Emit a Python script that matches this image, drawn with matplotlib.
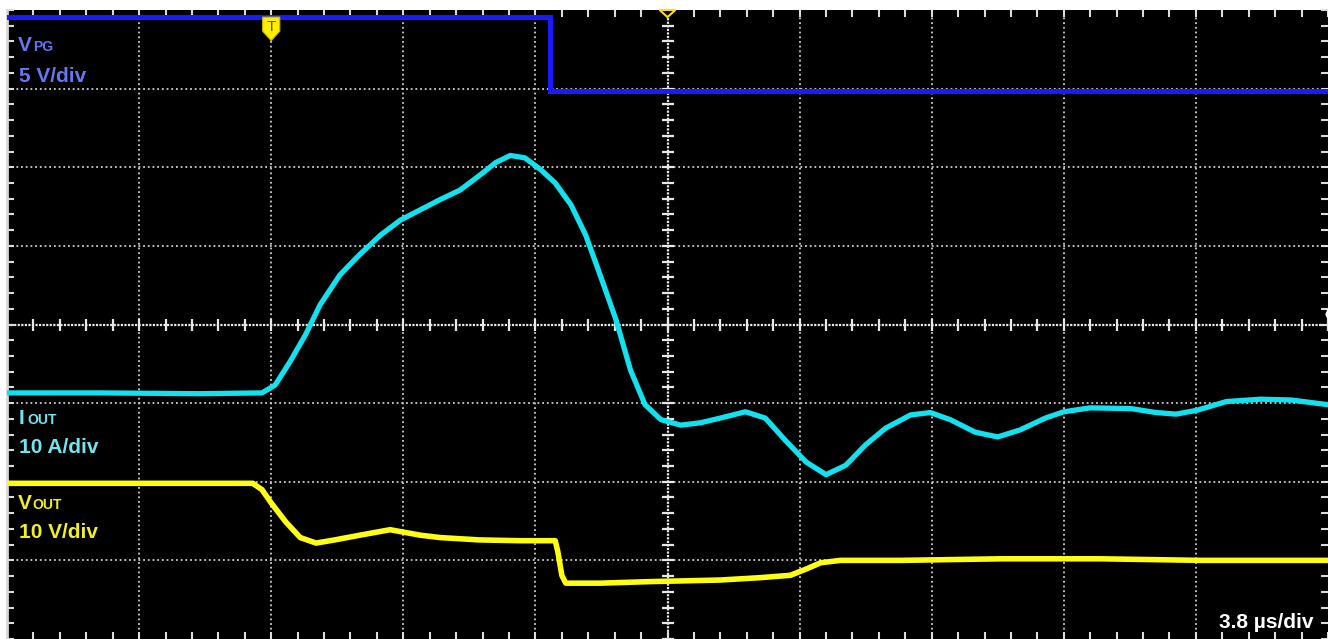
import matplotlib
matplotlib.use('Agg')
import matplotlib.pyplot as plt
import numpy as np
from matplotlib.patches import Polygon

# screen positions in divisions (10 x 8 grid, 3.8 us/div)
vpg_t = [0.0, 4.11, 4.11, 10.0]
vpg_v = [7.91, 7.91, 6.97, 6.97]

iout_t = [0.00, 0.70, 1.46, 1.93, 2.03, 2.14, 2.26, 2.37, 2.52, 2.67,
          2.83, 2.98, 3.13, 3.28, 3.43, 3.58, 3.70, 3.81, 3.92, 4.04,
          4.15, 4.27, 4.38, 4.49, 4.61, 4.72, 4.83, 4.95, 5.10, 5.25,
          5.40, 5.59, 5.74, 5.89, 6.05, 6.20, 6.35, 6.50, 6.65, 6.84,
          6.99, 7.14, 7.33, 7.50, 7.67, 7.86, 8.00, 8.20, 8.51, 8.70,
          8.85, 9.01, 9.23, 9.49, 9.72, 10.00]
iout_v = [3.13, 3.13, 3.12, 3.13, 3.23, 3.52, 3.87, 4.25, 4.63, 4.89,
          5.14, 5.33, 5.46, 5.59, 5.71, 5.90, 6.06, 6.15, 6.12, 5.97,
          5.80, 5.52, 5.14, 4.63, 4.06, 3.42, 2.98, 2.79, 2.72, 2.75,
          2.81, 2.89, 2.81, 2.53, 2.25, 2.09, 2.21, 2.47, 2.68, 2.85,
          2.88, 2.79, 2.63, 2.57, 2.66, 2.81, 2.89, 2.94, 2.93, 2.88,
          2.86, 2.91, 3.02, 3.05, 3.04, 2.98]

vout_t = [0.00, 1.08, 1.86, 1.93, 2.00, 2.11, 2.22, 2.34, 2.48, 2.67,
          2.90, 3.13, 3.28, 3.58, 3.89, 4.15, 4.17, 4.20, 4.23, 4.49,
          4.87, 5.40, 5.70, 5.93, 6.05, 6.16, 6.31, 6.77, 7.52, 8.28,
          9.04, 10.00]
vout_v = [1.98, 1.98, 1.98, 1.90, 1.73, 1.49, 1.29, 1.22, 1.26, 1.32,
          1.39, 1.32, 1.29, 1.26, 1.25, 1.25, 1.11, 0.81, 0.71, 0.71,
          0.73, 0.75, 0.78, 0.81, 0.89, 0.97, 1.00, 1.00, 1.02, 1.02,
          1.00, 1.00]

plt.rcParams['font.family'] = ['Liberation Sans', 'DejaVu Sans']

fig = plt.figure(figsize=(13.28, 6.39), dpi=100, facecolor='white')
ax = fig.add_axes([7 / 1328, 0, 1321 / 1328, 629 / 639])
ax.set_facecolor('black')
ax.set_xlim(0, 10)
ax.set_ylim(0, 8)

# graticule
grid_col = '#cfcfcf'
for gx in range(1, 10):
    if gx == 5:
        continue
    ax.axvline(gx, color=grid_col, lw=1.3, ls=(0, (1, 1.6)), zorder=1)
for gy in range(1, 8):
    if gy == 4:
        continue
    ax.axhline(gy, color=grid_col, lw=1.3, ls=(0, (1, 1.6)), zorder=1)
ax.axvline(5, color='#e8e8e8', lw=1.6, ls=(0, (1, 0.6)), zorder=1)
ax.axhline(4, color='#e8e8e8', lw=1.6, ls=(0, (1, 0.6)), zorder=1)
mt = np.arange(0, 10.01, 0.2)
ax.plot(mt, np.full(mt.size, 4.0), ls='none', marker='|', ms=8, mew=1.6, color='#e8e8e8', zorder=1)
mv = np.arange(0, 8.01, 0.2)
ax.plot(np.full(mv.size, 5.0), mv, ls='none', marker='_', ms=8, mew=1.6, color='#e8e8e8', zorder=1)

# edge ticks
ax.set_xticks(np.arange(0, 11))
ax.set_yticks(np.arange(0, 9))
ax.set_xticks(mt, minor=True)
ax.set_yticks(mv, minor=True)
ax.tick_params(which='both', direction='in', length=5, width=1.5, color='#dddddd',
               top=True, right=True, labelleft=False, labelbottom=False)
for s in ax.spines.values():
    s.set_visible(False)
ax.spines['left'].set_visible(True)
ax.spines['left'].set_color('#d8d8d8')
ax.spines['left'].set_linewidth(2)

# traces
ax.plot(vpg_t, vpg_v, color='#1a1aff', lw=3.6, zorder=3, solid_joinstyle='miter')
ax.plot(iout_t, iout_v, color='#12e2f0', lw=3.8, zorder=3)
ax.plot(vout_t, vout_v, color='#ffff14', lw=4.0, zorder=3)

# trigger marker and position markers
ax.add_patch(Polygon([(1.935, 7.91), (2.065, 7.91), (2.065, 7.73), (2.00, 7.61), (1.935, 7.73)],
                     closed=True, facecolor='#ffee00', edgecolor='#c8b400', lw=0.8, zorder=5))
ax.text(2.0, 7.79, 'T', color='#6a5a00', fontsize=11, ha='center', va='center', zorder=6)
ax.add_patch(Polygon([(4.94, 8.0), (5.06, 8.0), (5.0, 7.91)], closed=True,
                     facecolor='black', edgecolor='#ffdd00', lw=1.5, zorder=5, clip_on=False))
ax.add_patch(Polygon([(10.0, 4.19), (10.0, 4.07), (9.985, 4.13)], closed=True,
                     facecolor='white', edgecolor='white', zorder=5))

# channel labels
blue_lbl = '#6478f5'
cyan_lbl = '#72e6f0'
yel_lbl = '#f2f020'
ax.text(0.008, 0.935, 'V', transform=ax.transAxes, color=blue_lbl, fontsize=15, fontweight='bold', va='baseline')
ax.text(0.0195, 0.935, 'PG', transform=ax.transAxes, color=blue_lbl, fontsize=10, fontweight='bold', va='baseline')
ax.text(0.009, 0.885, '5 V/div', transform=ax.transAxes, color=blue_lbl, fontsize=15, fontweight='bold', va='baseline')

ax.text(0.009, 0.342, 'I', transform=ax.transAxes, color=cyan_lbl, fontsize=15, fontweight='bold', va='baseline')
ax.text(0.0155, 0.342, 'OUT', transform=ax.transAxes, color=cyan_lbl, fontsize=10, fontweight='bold', va='baseline')
ax.text(0.009, 0.295, '10 A/div', transform=ax.transAxes, color=cyan_lbl, fontsize=15, fontweight='bold', va='baseline')

ax.text(0.008, 0.206, 'V', transform=ax.transAxes, color=yel_lbl, fontsize=15, fontweight='bold', va='baseline')
ax.text(0.0195, 0.206, 'OUT', transform=ax.transAxes, color=yel_lbl, fontsize=10, fontweight='bold', va='baseline')
ax.text(0.009, 0.160, '10 V/div', transform=ax.transAxes, color=yel_lbl, fontsize=15, fontweight='bold', va='baseline')

ax.text(0.989, 0.018, '3.8 µs/div', transform=ax.transAxes, color='white', fontsize=15, fontweight='bold',
        ha='right', va='baseline')

plt.savefig('out.png', dpi=100, facecolor='white')
